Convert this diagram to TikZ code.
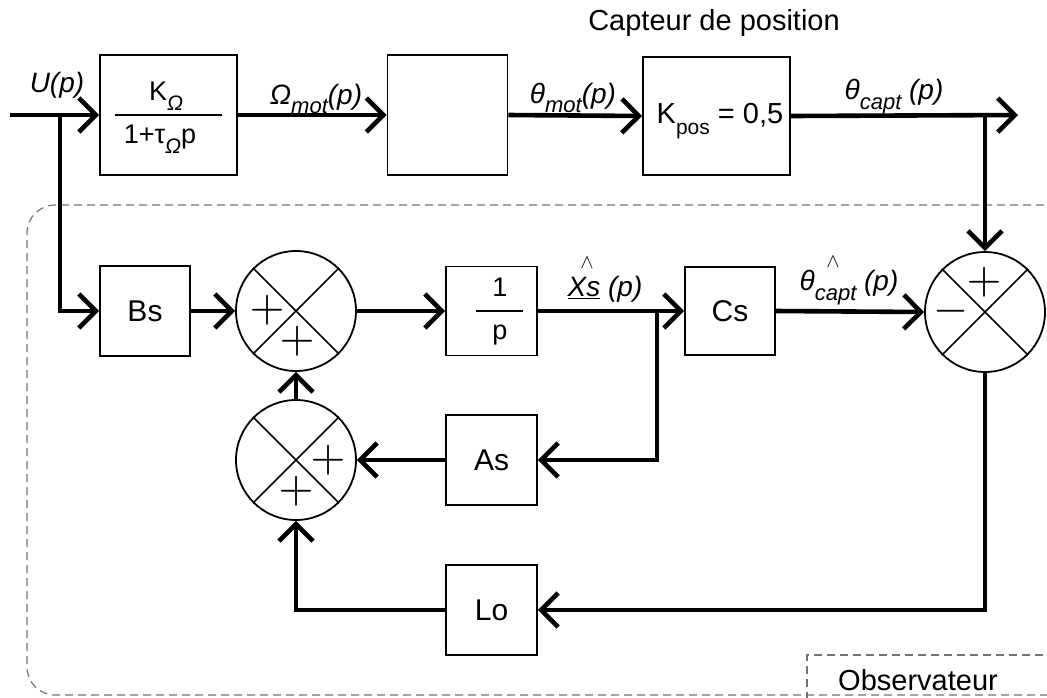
\documentclass[tikz,border=0pt]{standalone}
\usepackage{fontspec}
\setmainfont{Liberation Sans}
\usetikzlibrary{arrows.meta}
\newcommand\sbx[1]{\raisebox{-0.35em}{\fontsize{22}{22}\selectfont #1}}
\newcommand\sbk[1]{\raisebox{-0.35em}{\fontsize{21}{21}\selectfont #1}}
\begin{document}
\begin{tikzpicture}[x=1pt,y=-1pt,
  blk/.style={draw, line width=1.8pt, inner sep=0pt, font=\fontsize{30}{32}\selectfont},
  sumnode/.style={draw, circle, line width=1.8pt, minimum size=120pt, inner sep=0pt},
  cross/.style={line width=1.6pt},
  sig/.style={line width=4.6pt, -{Straight Barb[length=17pt,width=34pt]}},
  lbl/.style={font=\fontsize{28}{30}\selectfont\itshape, inner sep=0pt},
  txt/.style={font=\fontsize{29}{31}\selectfont, inner sep=0pt},
  inbox/.style={font=\fontsize{27}{29}\selectfont, inner sep=0pt},
  sgn/.style={font=\fontsize{10}{10}\selectfont, scale=4.5, inner sep=0pt},
  hatm/.style={font=\fontsize{10}{10}\selectfont, scale=2, inner sep=0pt},
  frame/.style={draw=black!55, line width=1.2pt, dash pattern=on 8pt off 5pt}
]
\useasboundingbox (0,0) rectangle (1047,697);

% observer frame
\begin{scope}
\clip (0,0) rectangle (1047,697);
\draw[frame, rounded corners=28pt] (1070,205) -- (27,205) -- (27,695) -- (1070,695);
\draw[frame] (807,700) -- (807,655) -- (1060,655);
\end{scope}
\node[txt] (obs) at (918,680) {Observateur};
\node[txt] (capt) at (714,23) {Capteur de position};

% top chain
\node[blk, minimum width=137pt, minimum height=120pt] (b1) at (168.5,115) {};
\node[blk, minimum width=120pt, minimum height=120pt] (b2) at (447.5,115) {};
\node[blk, minimum width=147pt, minimum height=118pt] (b3) at (716.5,116) {};
\draw[line width=1.5pt] (115,115) -- (222,115);
\node[inbox] (num) at (166,96) {K\sbk{\itshape Ω}};
\node[inbox] (den) at (160,139) {1+τ\sbk{\itshape Ω}p};
\node[inbox, font=\fontsize{29}{31}\selectfont] (kpos) at (720,121) {K\sbk{pos} = 0,5};

% observer blocks
\node[blk, minimum width=90pt, minimum height=90pt] (bs) at (145,311) {Bs};
\node[blk, minimum width=91pt, minimum height=89pt] (inv) at (491.5,311) {};
\node[inbox] (one) at (500,287) {1};
\node[inbox] (pp) at (500,335) {p};
\draw[line width=1.5pt] (476,311) -- (523,311);
\node[blk, minimum width=90pt, minimum height=88pt] (cs) at (730,311) {Cs};
\node[blk, minimum width=91pt, minimum height=90pt] (as) at (491.5,460) {As};
\node[blk, minimum width=91pt, minimum height=90pt] (lo) at (491.5,610) {Lo};

% summing junctions
\node[sumnode] (s1) at (296,311) {};
\node[sumnode] (s3) at (296,460) {};
\node[sumnode] (s2) at (985,312) {};
\foreach \s in {s1,s2,s3}{
  \draw[cross] (\s.north east) -- (\s.south west);
  \draw[cross] (\s.north west) -- (\s.south east);
}
\node[sgn] (s1a) at (267,310) {$+$};
\node[sgn] (s1b) at (297,341) {$+$};
\node[sgn] (s3a) at (328,460) {$+$};
\node[sgn] (s3b) at (296,491) {$+$};
\node[sgn] (s2a) at (984,282) {$+$};
\node[sgn] (s2b) at (951,311) {$-$};

% coordinates
\coordinate (in) at (10,115);
\coordinate (br0) at (60,115);
\coordinate (out) at (1018,115);
\coordinate (br1) at (985,115);
\coordinate (br2) at (657,311);

% connectors
\draw[sig] (in) -- (b1.west);
\draw[sig] (b1.east) -- (b2.west);
\draw[sig] (b2.east) -- (b3.west);
\draw[sig] (b3.east) -- (out);
\draw[sig] (br1) -- (s2.north);
\draw[sig] (br0) |- (bs.west);
\draw[sig] (bs.east) -- (s1.west);
\draw[sig] (s1.east) -- (inv.west);
\draw[sig] (inv.east) -- (cs.west);
\draw[sig] (br2) |- (as.east);
\draw[sig] (as.west) -- (s3.east);
\draw[sig] (s3.north) -- (s1.south);
\draw[sig] (cs.east) -- (s2.west);
\draw[sig] (s2.south) |- (lo.east);
\draw[sig] (lo.west) -| (s3.south);

% signal labels
\node[lbl] (lu) at (57,85) {U(p)};
\node[lbl] (lw) at (316,99) {Ω\sbx{mot}(p)};
\node[lbl] (lt) at (573,98) {θ\sbx{mot}(p)};
\node[lbl] (lc) at (894,97) {θ\sbx{capt} (p)};
\node[lbl] (lx) at (605,289) {\underline{Xs} (p)};
\node[hatm] (hx) at (587,263) {$\wedge$};
\node[lbl] (lch) at (849,288) {θ\sbx{capt} (p)};
\node[hatm] (hc) at (833,262) {$\wedge$};
\end{tikzpicture}
\end{document}
